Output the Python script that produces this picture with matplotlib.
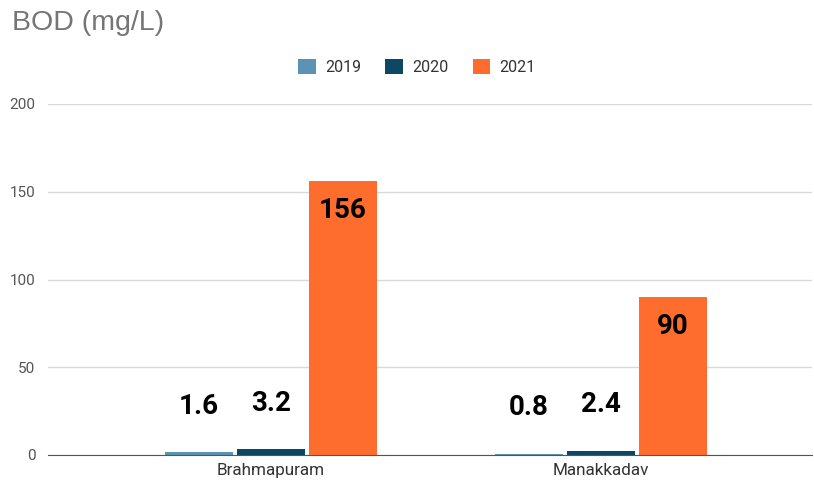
import matplotlib
matplotlib.use("Agg")
import matplotlib.pyplot as plt
import numpy as np
from matplotlib.patches import Patch

categories = ["Brahmapuram", "Manakkadav"]
years = ["2019", "2020", "2021"]
v2019 = [1.6, 0.8]
v2020 = [3.2, 2.4]
v2021 = [156, 90]
labels2019 = ["1.6", "0.8"]
labels2020 = ["3.2", "2.4"]
labels2021 = ["156", "90"]
yticks = [0, 50, 100, 150, 200]

colors = ["#5a93b3", "#0c4764", "#ff6d2e"]

plt.rcParams['font.family'] = ['Roboto', 'DejaVu Sans']
fig = plt.figure(figsize=(8.14, 4.83), dpi=100)
ax = fig.add_axes([48/814, 1-455/483, (812-48)/814, (455-104)/483])

x = np.arange(len(categories))
w = 0.206
off = 0.218
series = [v2019, v2020, v2021]
lbls = [labels2019, labels2020, labels2021]
for i, (vals, lab) in enumerate(zip(series, lbls)):
    xs = x + (i - 1) * off
    ax.bar(xs, vals, width=w, color=colors[i], zorder=3)
    for xi, v, t in zip(xs, vals, lab):
        if v > 20:
            ax.annotate(t, (xi, v), xytext=(0, -29), textcoords='offset pixels',
                        ha='center', va='center', fontsize=20, fontweight='bold',
                        color='black', zorder=4)
        else:
            ax.annotate(t, (xi, v), xytext=(0, 46), textcoords='offset pixels',
                        ha='center', va='center', fontsize=20, fontweight='bold',
                        color='black', zorder=4)

ax.set_xlim(-0.676, 1.64)
ax.set_ylim(0, 200)
ax.set_yticks(yticks)
ax.set_yticklabels([str(t) for t in yticks])
ax.set_xticks(x)
ax.set_xticklabels(categories)
ax.grid(axis='y', color='#d9d9d9', linewidth=1, zorder=0)
for s in ['top', 'right', 'left']:
    ax.spines[s].set_visible(False)
ax.spines['bottom'].set_color('#555555')
ax.spines['bottom'].set_zorder(5)
ax.tick_params(axis='y', length=0, labelsize=11, colors='#555555', pad=9)
ax.tick_params(axis='x', length=0, labelsize=12.3, colors='#333333', pad=6)

fig.text(12/814, 1-23/483, "BOD (mg/L)", fontsize=20.5, color='#757575', ha='left', va='center',
         family=['Liberation Sans', 'DejaVu Sans'])

handles = [Patch(facecolor=c, edgecolor='none') for c in colors]
leg = fig.legend(handles, years, loc='center', bbox_to_anchor=(417/814, 1-67/483), ncol=3,
                 frameon=False, fontsize=11.5, handlelength=1.1, handleheight=1.1,
                 columnspacing=1.5, handletextpad=0.6)
for t in leg.get_texts():
    t.set_color('#333333')

fig.savefig("out.png", dpi=100)
